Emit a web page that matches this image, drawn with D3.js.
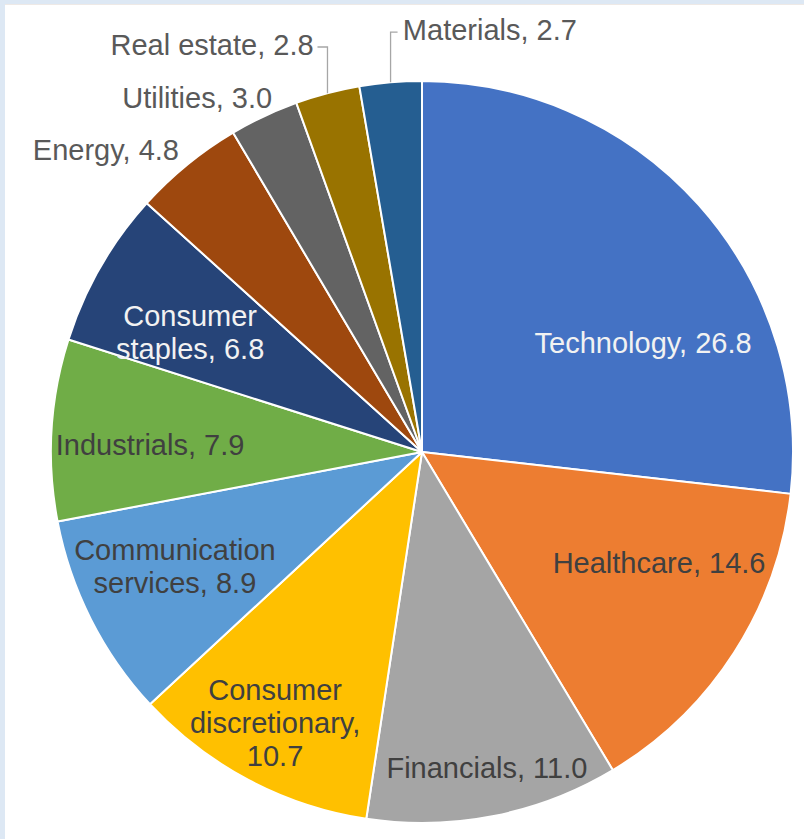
<!DOCTYPE html>
<html lang="en">
  <head>
    <meta charset="UTF-8" />
    <title>Sector weights</title>
    <style>
      body {
        margin: 0;
        background: #ffffff;
        font-family: "Liberation Sans", Arial, sans-serif;
      }
      #chart {
        width: 804px;
        height: 839px;
      }
    </style>
  </head>
  <body>
    <div id="chart"></div>

    <script src="https://cdn.jsdelivr.net/npm/d3@7"></script>
    <script>
      // sectors, clockwise from 12 o'clock
      const sectors = [
        "Technology",
        "Healthcare",
        "Financials",
        "Consumer discretionary",
        "Communication services",
        "Industrials",
        "Consumer staples",
        "Energy",
        "Utilities",
        "Real estate",
        "Materials",
      ];
      const weights = [26.8, 14.6, 11.0, 10.7, 8.9, 7.9, 6.8, 4.8, 3.0, 2.8, 2.7];
      // how each label is broken into lines
      const labelLines = [
        ["Technology, 26.8"],
        ["Healthcare, 14.6"],
        ["Financials, 11.0"],
        ["Consumer", "discretionary,", "10.7"],
        ["Communication", "services, 8.9"],
        ["Industrials, 7.9"],
        ["Consumer", "staples, 6.8"],
        ["Energy, 4.8"],
        ["Utilities, 3.0"],
        ["Real estate, 2.8"],
        ["Materials, 2.7"],
      ];

      const colors = [
        "#4472c4", "#ed7d31", "#a5a5a5", "#ffc000", "#5b9bd5", "#70ad47",
        "#264478", "#9e480e", "#636363", "#997300", "#255e91",
      ];

      const width = 804,
        height = 839;
      const cx = 422,
        cy = 452,
        radius = 371;

      // label centre, in units of radius from the pie centre
      const labelPos = [
        [0.596, -0.294],
        [0.639, 0.299],
        [0.175, 0.852],
        [-0.396, 0.730],
        [-0.666, 0.307],
        [-0.733, -0.019],
        [-0.625, -0.323],
        [-0.852, -0.814],
        [-0.606, -0.954],
        [-0.566, -1.097],
        [0.183, -1.137],
      ];
      const lightText = [true, false, false, false, false, false, true, false, false, false, false];
      const outside = [false, false, false, false, false, false, false, true, true, true, true];
      const hasLeader = [false, false, false, false, false, false, false, false, false, true, true];

      const fontSize = 29;
      const lineH = 33;

      const svg = d3
        .select("#chart")
        .append("svg")
        .attr("width", width)
        .attr("height", height);

      // pale frame on the top and left edges
      svg.append("rect").attr("x", 0).attr("y", 0).attr("width", width).attr("height", 4).attr("fill", "#dde8f4");
      svg.append("rect").attr("x", 0).attr("y", 0).attr("width", 5).attr("height", height).attr("fill", "#dde8f4");
      svg.append("rect").attr("x", 5).attr("y", 4).attr("width", width).attr("height", 1).attr("fill", "#eee9e6");

      const data = sectors.map((s, i) => ({ name: s, value: weights[i], i }));

      const pie = d3
        .pie()
        .sort(null)
        .value((d) => d.value);
      const arcs = pie(data);

      const arc = d3.arc().innerRadius(0).outerRadius(radius);

      const g = svg.append("g").attr("transform", `translate(${cx},${cy})`);

      g.selectAll(".slice")
        .data(arcs)
        .enter()
        .append("path")
        .attr("class", "slice")
        .attr("d", arc)
        .attr("fill", (d) => colors[d.data.i])
        .attr("stroke", "#ffffff")
        .attr("stroke-width", 2)
        .attr("stroke-linejoin", "round");

      // leader lines: up from the rim at the slice mid-angle, then across to the label
      const leaders = arcs.filter((d) => hasLeader[d.data.i]);
      g.selectAll(".leader")
        .data(leaders)
        .enter()
        .append("polyline")
        .attr("class", "leader")
        .attr("fill", "none")
        .attr("stroke", "#a6a6a6")
        .attr("stroke-width", 1.3)
        .attr("points", (d) => {
          const a = (d.startAngle + d.endAngle) / 2;
          const ex = radius * Math.sin(a),
            ey = -radius * Math.cos(a);
          const p = labelPos[d.data.i];
          const ly = p[1] * radius + 2;
          const lx = p[0] * radius;
          const end = lx > ex ? ex + 7 : ex - 10;
          return [[ex, ey], [ex, ly], [end, ly]].map((q) => q.join(",")).join(" ");
        });

      const labels = g
        .selectAll(".label")
        .data(arcs)
        .enter()
        .append("text")
        .attr("class", "label")
        .attr("text-anchor", "middle")
        .attr("font-size", fontSize)
        .attr("fill", (d) =>
          lightText[d.data.i] ? "#f2f2f2" : outside[d.data.i] ? "#595959" : "#404040"
        );

      labels.each(function (d) {
        const lines = labelLines[d.data.i];
        const p = labelPos[d.data.i];
        const x0 = p[0] * radius,
          y0 = p[1] * radius;
        const top = y0 - ((lines.length - 1) * lineH) / 2;
        d3.select(this)
          .selectAll("tspan")
          .data(lines)
          .enter()
          .append("tspan")
          .attr("x", x0)
          .attr("y", (_, k) => top + k * lineH)
          .attr("dy", "0.35em")
          .text((t) => t);
      });
    </script>
  </body>
</html>
